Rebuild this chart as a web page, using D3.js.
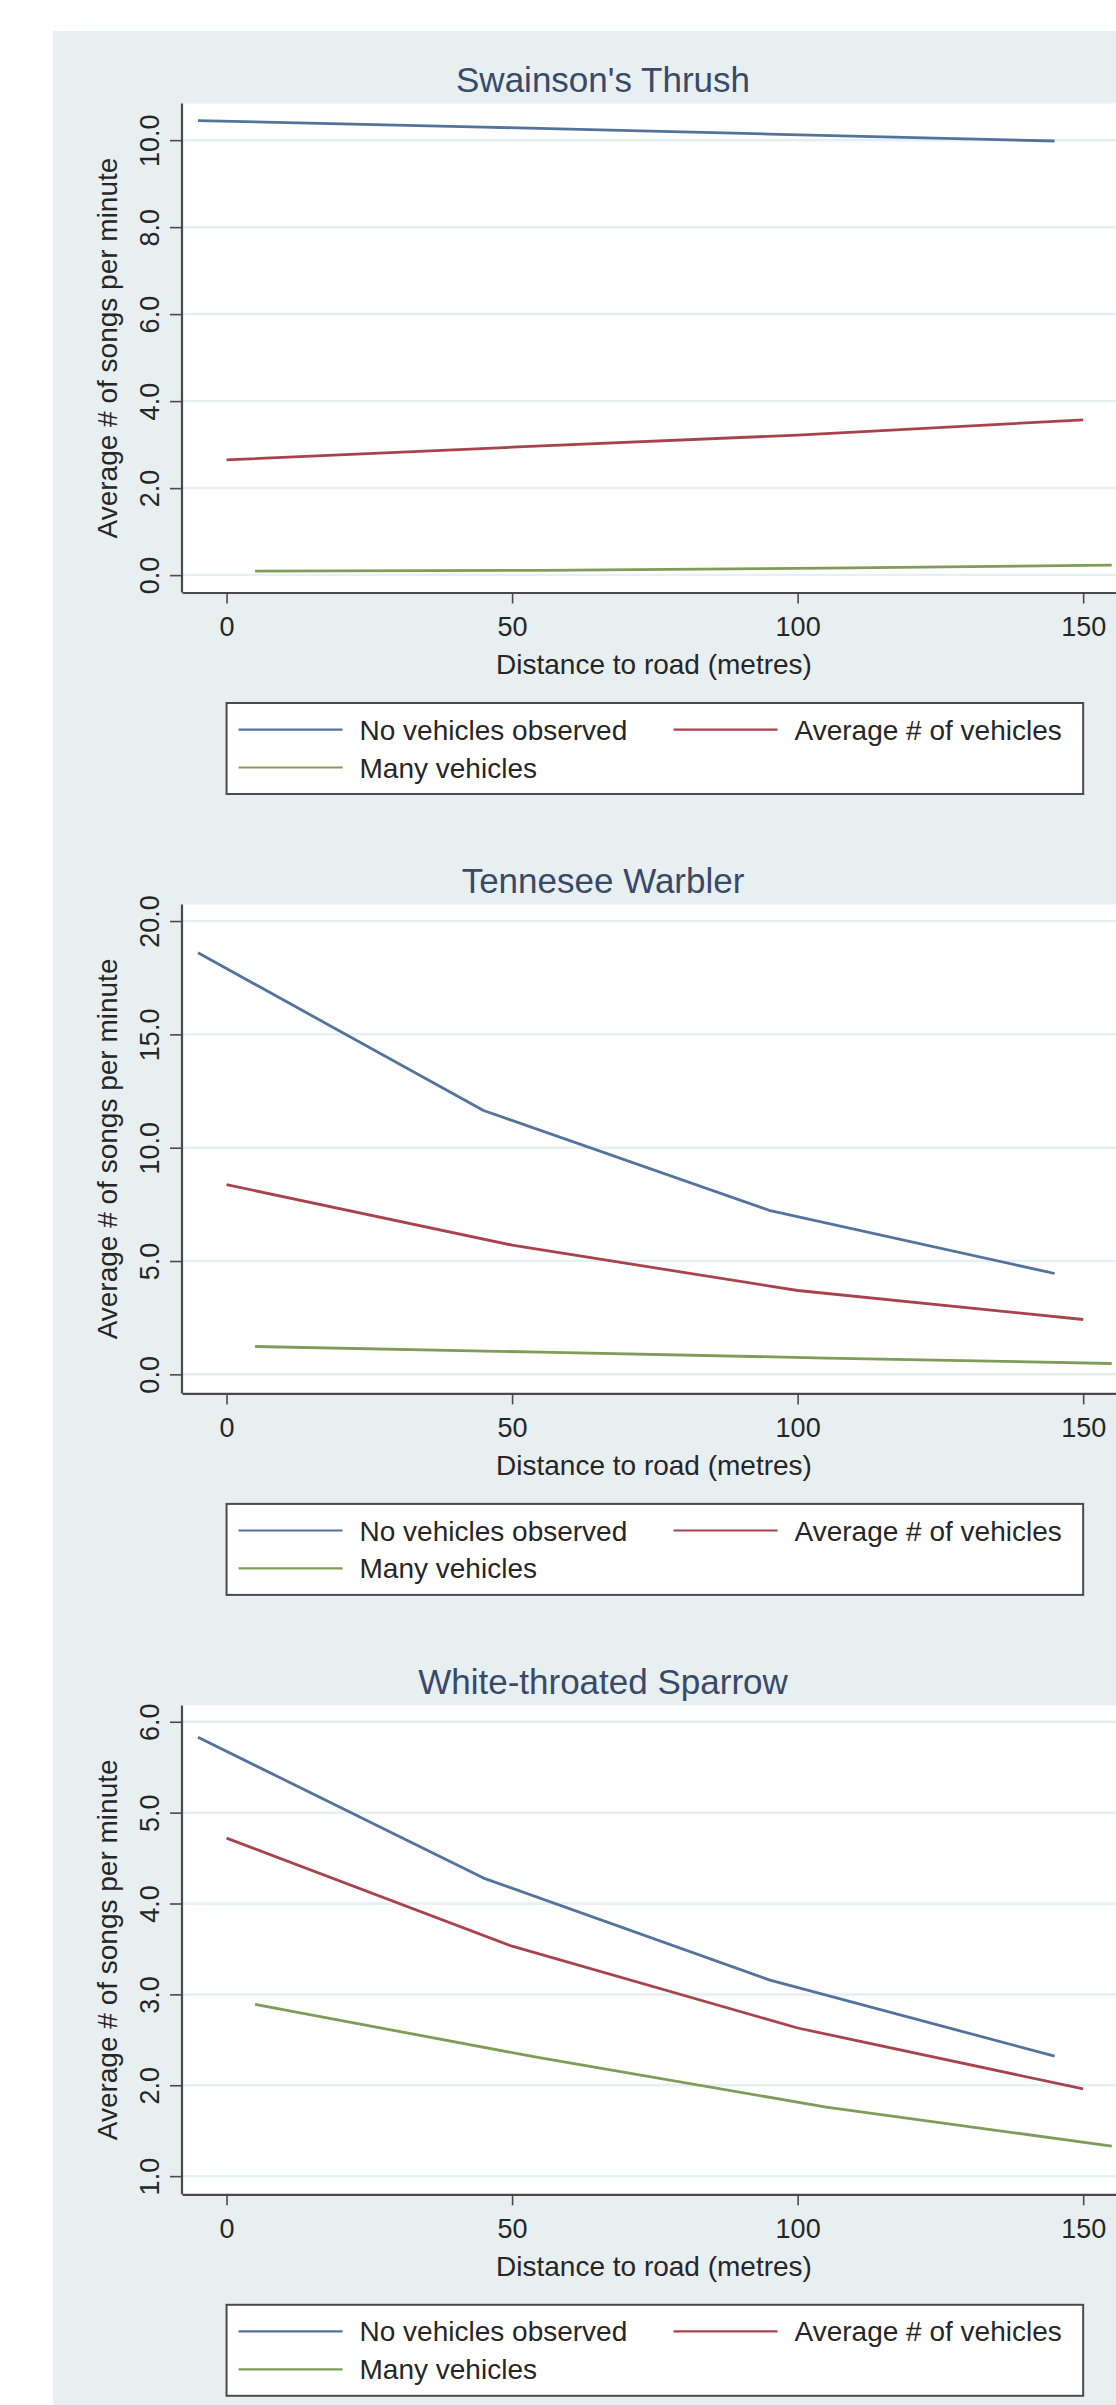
<!DOCTYPE html>
<html>
<head>
<meta charset="utf-8">
<script src="https://cdn.jsdelivr.net/npm/d3@7"></script>
<style>
  body { margin: 0; background: #fff; }
  svg { display: block; font-family: "Liberation Sans", Arial, Helvetica, sans-serif; }
</style>
</head>
<body>
<div id="chart"></div>
<script>
// species panels, top to bottom
var species = ["Swainson's Thrush", "Tennesee Warbler", "White-throated Sparrow"];
var seriesNames = ["No vehicles observed", "Average # of vehicles", "Many vehicles"];

// distance to road, each group shifted a little so the lines don't sit on top of each other
var distNone = [-5, 45, 95, 145];
var distAverage = [0, 50, 100, 150];
var distMany = [5, 55, 105, 155];

// average songs per minute, one row per species
var noVehicles = [
  [10.45, 10.30, 10.14, 9.98],
  [18.60, 11.64, 7.24, 4.45],
  [5.83, 4.28, 3.16, 2.32]
];
var averageVehicles = [
  [2.65, 2.94, 3.22, 3.57],
  [8.37, 5.70, 3.70, 2.42],
  [4.72, 3.53, 2.63, 1.96]
];
var manyVehicles = [
  [0.09, 0.11, 0.16, 0.23],
  [1.23, 0.98, 0.72, 0.48],
  [2.89, 2.30, 1.76, 1.33]
];

// axis ticks and ranges
var xTicks = [0, 50, 100, 150];
var xDomain = [-7.8, 157.5];
var yTicks = [
  [0, 2, 4, 6, 8, 10],
  [0, 5, 10, 15, 20],
  [1, 2, 3, 4, 5, 6]
];
var yDomains = [
  [-0.40, 10.84],
  [-0.84, 20.73],
  [0.80, 6.18]
];

//Width and height
var w = 1116;
var h = 2405;
var panelStep = 800.9;
var colors = ["#53739d", "#a8434e", "#7f9c58"];
var axisColor = "#4a4a4a";
var textColor = "#262626";

//Create SVG element
var svg = d3.select('#chart')
            .append('svg')
            .attr('width', w)
            .attr('height', h);

// light bluish graph region
svg.append('rect')
   .attr('x', 53)
   .attr('y', 31)
   .attr('width', w - 53)
   .attr('height', h - 31)
   .attr('fill', '#e8eff1');

var x = d3.scaleLinear().domain(xDomain).range([182, 1126]);

species.forEach(function (name, i) {
  var g = svg.append('g')
             .attr('transform', 'translate(0,' + (i * panelStep) + ')');

  var plotTop = 103.6;
  var plotBottom = 592.5;
  var y = d3.scaleLinear().domain(yDomains[i]).range([plotBottom, plotTop]);

  //title
  g.append('text')
   .attr('x', 603)
   .attr('y', 92)
   .attr('text-anchor', 'middle')
   .attr('font-size', 35)
   .attr('fill', '#38496a')
   .text(name);

  //plot region
  g.append('rect')
   .attr('x', x.range()[0])
   .attr('y', plotTop)
   .attr('width', x.range()[1] - x.range()[0])
   .attr('height', plotBottom - plotTop)
   .attr('fill', '#ffffff');

  //gridlines
  g.selectAll('line.grid')
   .data(yTicks[i])
   .enter()
   .append('line')
   .attr('class', 'grid')
   .attr('x1', x.range()[0])
   .attr('x2', x.range()[1])
   .attr('y1', function (d) { return y(d); })
   .attr('y2', function (d) { return y(d); })
   .attr('stroke', '#e6eff1')
   .attr('stroke-width', 2.5);

  //series lines
  var series = [
    { name: seriesNames[0], xs: distNone, ys: noVehicles[i] },
    { name: seriesNames[1], xs: distAverage, ys: averageVehicles[i] },
    { name: seriesNames[2], xs: distMany, ys: manyVehicles[i] }
  ];
  var line = d3.line()
               .x(function (d) { return x(d[0]); })
               .y(function (d) { return y(d[1]); });

  g.selectAll('path.series')
   .data(series)
   .enter()
   .append('path')
   .attr('class', 'series')
   .attr('fill', 'none')
   .attr('stroke', function (d, k) { return colors[k]; })
   .attr('stroke-width', 2.8)
   .attr('stroke-linejoin', 'round')
   .attr('d', function (d) { return line(d3.zip(d.xs, d.ys)); });

  //y axis
  var yAxis = g.append('g')
               .attr('transform', 'translate(' + x.range()[0] + ',0)')
               .call(d3.axisLeft(y)
                       .tickValues(yTicks[i])
                       .tickSize(12)
                       .tickSizeOuter(0)
                       .tickFormat(d3.format('.1f')));
  yAxis.select('.domain')
       .attr('d', 'M0,' + plotTop + 'V' + plotBottom)
       .attr('stroke', axisColor)
       .attr('stroke-width', 2.2);
  yAxis.selectAll('.tick line').attr('stroke', axisColor).attr('stroke-width', 1.6);
  yAxis.selectAll('.tick text')
       .attr('x', 0)
       .attr('dy', 0)
       .attr('transform', 'translate(-23,0) rotate(-90)')
       .attr('text-anchor', 'middle')
       .attr('font-size', 27)
       .attr('font-family', null)
       .attr('fill', textColor);

  //x axis
  var xAxis = g.append('g')
               .attr('transform', 'translate(0,' + plotBottom + ')')
               .call(d3.axisBottom(x)
                       .tickValues(xTicks)
                       .tickSize(11)
                       .tickSizeOuter(0));
  xAxis.select('.domain').attr('stroke', axisColor).attr('stroke-width', 2.2);
  xAxis.selectAll('.tick line').attr('stroke', axisColor).attr('stroke-width', 1.6);
  xAxis.selectAll('.tick text')
       .attr('y', 43.5)
       .attr('dy', 0)
       .attr('font-size', 27)
       .attr('font-family', null)
       .attr('fill', textColor);

  //axis titles
  g.append('text')
   .attr('transform', 'translate(117,' + ((plotTop + plotBottom) / 2) + ') rotate(-90)')
   .attr('text-anchor', 'middle')
   .attr('font-size', 28)
   .attr('fill', textColor)
   .text('Average # of songs per minute');

  g.append('text')
   .attr('x', (x.range()[0] + x.range()[1]) / 2)
   .attr('y', 674)
   .attr('text-anchor', 'middle')
   .attr('font-size', 28)
   .attr('fill', textColor)
   .text('Distance to road (metres)');

  //legend box spans the 0..150 ticks
  var legLeft = x(xTicks[0]);
  var legRight = x(xTicks[xTicks.length - 1]);
  var legend = g.append('g');
  legend.append('rect')
        .attr('x', legLeft)
        .attr('y', 703)
        .attr('width', legRight - legLeft)
        .attr('height', 91)
        .attr('fill', '#ffffff')
        .attr('stroke', axisColor)
        .attr('stroke-width', 2);

  var slots = [
    { lx: legLeft + 12, ly: 729.6 },
    { lx: legLeft + 447, ly: 729.6 },
    { lx: legLeft + 12, ly: 767.5 }
  ];
  var items = legend.selectAll('g.item')
                    .data(series)
                    .enter()
                    .append('g')
                    .attr('class', 'item')
                    .attr('transform', function (d, k) {
                      return 'translate(' + slots[k].lx + ',' + slots[k].ly + ')';
                    });
  items.append('line')
       .attr('x1', 0)
       .attr('x2', 104)
       .attr('stroke', function (d, k) { return colors[k]; })
       .attr('stroke-width', 2.2);
  items.append('text')
       .attr('x', 121)
       .attr('y', 10)
       .attr('font-size', 28)
       .attr('fill', textColor)
       .text(function (d) { return d.name; });
});
</script>
</body>
</html>
